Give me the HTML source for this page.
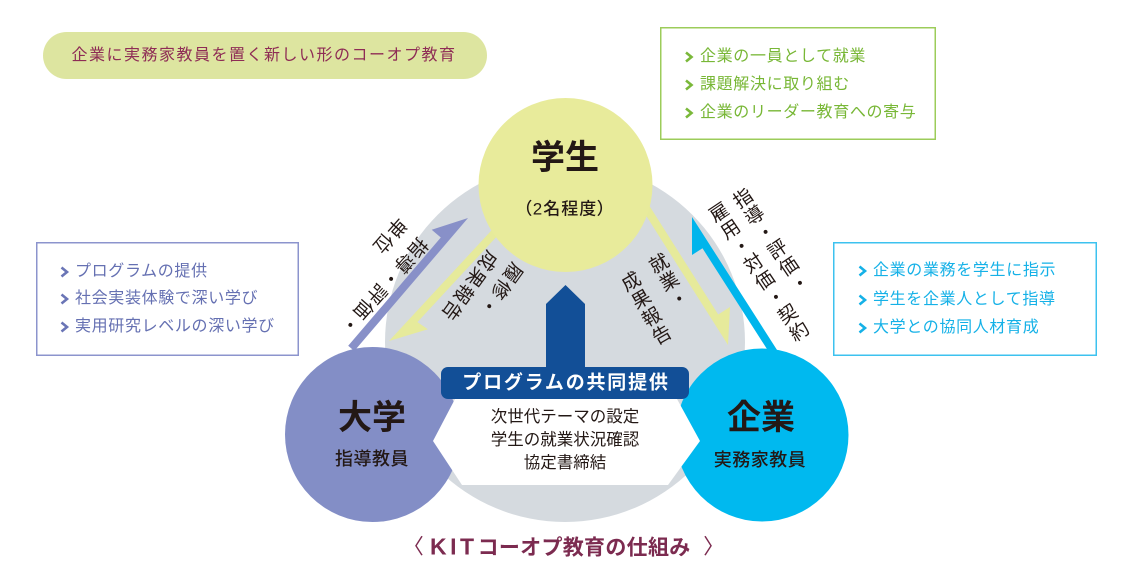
<!DOCTYPE html>
<html><head><meta charset="utf-8">
<style>
*{margin:0;padding:0;box-sizing:border-box}
html,body{width:1128px;height:585px;overflow:hidden;background:#fff}
body{position:relative;font-family:"Liberation Sans","Noto Sans CJK JP",sans-serif;color:#231815}
.t{position:absolute;white-space:nowrap;line-height:1;transform:translate(-50%,-50%)}
.r{position:absolute;white-space:nowrap;line-height:1;font-size:19px;letter-spacing:1.5px;transform-origin:0 0;color:#231815}
.v{writing-mode:vertical-rl}
.row{position:absolute;white-space:nowrap;line-height:1;font-size:16px;letter-spacing:0.65px;transform:translateY(-50%)}
.g{color:#78b736}.p{color:#6570b2}.c{color:#15b1e7}
</style></head><body>
<svg width="1128" height="585" style="position:absolute;left:0;top:0">
 <rect x="43" y="32" width="444" height="47" rx="23.5" fill="#dde5a0"/>
 <rect x="660.75" y="27.75" width="274.5" height="111.5" fill="none" stroke="#9ccc5a" stroke-width="1.5"/>
 <rect x="36.75" y="242.75" width="261.5" height="112.5" fill="none" stroke="#8c94cd" stroke-width="1.5"/>
 <rect x="833.75" y="242.75" width="262.5" height="112.5" fill="none" stroke="#3cc2ef" stroke-width="1.5"/>
 <g fill="none" stroke-width="2.6" stroke-linejoin="miter">
  <g stroke="#7ab83a">
   <polyline points="686,52.5 691.5,57 686,61.5"/>
   <polyline points="686,80.5 691.5,85 686,89.5"/>
   <polyline points="686,108.5 691.5,113 686,117.5"/>
  </g>
  <g stroke="#6a75b6">
   <polyline points="61.5,267.5 67,272 61.5,276.5"/>
   <polyline points="61.5,294.5 67,299 61.5,303.5"/>
   <polyline points="61.5,322.5 67,327 61.5,331.5"/>
  </g>
  <g stroke="#15b1e7">
   <polyline points="859.5,266.5 865,271 859.5,275.5"/>
   <polyline points="859.5,295.5 865,300 859.5,304.5"/>
   <polyline points="859.5,323.5 865,328 859.5,332.5"/>
  </g>
 </g>
 <circle cx="565" cy="342" r="180" fill="#d5dadf"/>
 <polygon points="468,218 431.7,229.7 440.8,237.5 348.2,345.8 354.3,351" fill="#8890c8"/>
 <polygon points="389,341 427.9,329.3 417.4,322.1 503.9,228.8 498,223.4" fill="#e6ea9b"/>
 <polygon points="728,345 730,307 718.2,314.5 649.2,205.5 642.4,209.8" fill="#e6ea9b"/>
 <polygon points="692,217 692,255 702.5,248.3 779.6,368.8 786.3,364.5" fill="#00b5ec"/>
 <polygon points="546,372 546,304 565.5,285 585,304 585,372" fill="#124f97"/>
 <circle cx="565.5" cy="185" r="87" fill="#e8eb9b"/>
 <circle cx="372.5" cy="434.5" r="87.5" fill="#838ec6"/>
 <circle cx="762" cy="435" r="86.5" fill="#00b9ef"/>
 <polygon points="455,399 677,399 700,441 668,485 462,485 433,441" fill="#fff"/>
 <rect x="441" y="367" width="248" height="32" rx="7" fill="#124f97"/>
</svg>

<div class="t" style="left:264px;top:55.5px;font-size:16px;letter-spacing:1.5px;color:#8e2c55">企業に実務家教員を置く新しい形のコーオプ教育</div>

<div class="row g" style="left:700px;top:57px">企業の一員として就業</div>
<div class="row g" style="left:700px;top:85px">課題解決に取り組む</div>
<div class="row g" style="left:700px;top:113px">企業のリーダー教育への寄与</div>

<div class="row p" style="left:75px;top:272px">プログラムの提供</div>
<div class="row p" style="left:75px;top:299px">社会実装体験で深い学び</div>
<div class="row p" style="left:75px;top:327px">実用研究レベルの深い学び</div>

<div class="row c" style="left:873px;top:271px">企業の業務を学生に指示</div>
<div class="row c" style="left:873px;top:300px">学生を企業人として指導</div>
<div class="row c" style="left:873px;top:328px">大学との協同人材育成</div>

<div class="t" style="left:565px;top:158px;font-size:34px;font-weight:bold">学生</div>
<div class="t" style="left:565px;top:209px;font-size:17px;font-weight:500;letter-spacing:1px;font-feature-settings:'palt'">（2名程度）</div>
<div class="t" style="left:372px;top:418px;font-size:34px;font-weight:bold">大学</div>
<div class="t" style="left:372px;top:459px;font-size:18px;font-weight:500;letter-spacing:0.5px">指導教員</div>
<div class="t" style="left:761px;top:418px;font-size:34px;font-weight:bold">企業</div>
<div class="t" style="left:760px;top:460px;font-size:18px;font-weight:500;letter-spacing:0.5px">実務家教員</div>

<div class="t" style="left:566px;top:383px;font-size:19px;font-weight:bold;letter-spacing:1.8px;color:#fff">プログラムの共同提供</div>
<div class="t" style="left:565px;top:417px;font-size:16.5px">次世代テーマの設定</div>
<div class="t" style="left:565px;top:440px;font-size:16.5px">学生の就業状況確認</div>
<div class="t" style="left:565px;top:463px;font-size:16.5px">協定書締結</div>

<!-- left outer -->
<div class="r" style="left:416.5px;top:246.5px;transform:rotate(131.5deg) translate(-9.5px,-9.5px)">指導・評価・</div>
<div class="r" style="left:395.7px;top:226.7px;transform:rotate(131.5deg) translate(-9.5px,-9.5px)">単位</div>
<!-- left inner -->
<div class="r" style="left:511.7px;top:272.3px;transform:rotate(126deg) translate(-9.5px,-9.5px)">履修・</div>
<div class="r" style="left:487.3px;top:260px;transform:rotate(126deg) translate(-9.5px,-9.5px)">成果報告</div>
<!-- right outer -->
<div class="r v" style="left:740.7px;top:199.3px;transform:rotate(-34deg) translate(-9.5px,-9.5px)">指導・評価・</div>
<div class="r v" style="left:716.7px;top:213.3px;transform:rotate(-34deg) translate(-9.5px,-9.5px)">雇用・対価・契約</div>
<!-- right inner -->
<div class="r v" style="left:656.7px;top:264px;transform:rotate(-30deg) translate(-9.5px,-9.5px)">就業・</div>
<div class="r v" style="left:629px;top:281.7px;transform:rotate(-30deg) translate(-9.5px,-9.5px)">成果報告</div>

<div class="t" style="left:418px;top:547px;font-size:21px;color:#7c2b50;font-feature-settings:'palt'">〈</div>
<div style="position:absolute;left:430px;top:547px;transform:translateY(-50%);white-space:nowrap;line-height:1;color:#7c2b50;font-weight:bold"><span style="font-size:23px;letter-spacing:3.5px">KIT</span><span style="font-size:21px;letter-spacing:0.3px">コーオプ教育の仕組み</span></div>
<div class="t" style="left:709px;top:547px;font-size:21px;color:#7c2b50;font-feature-settings:'palt'">〉</div>
</body></html>
